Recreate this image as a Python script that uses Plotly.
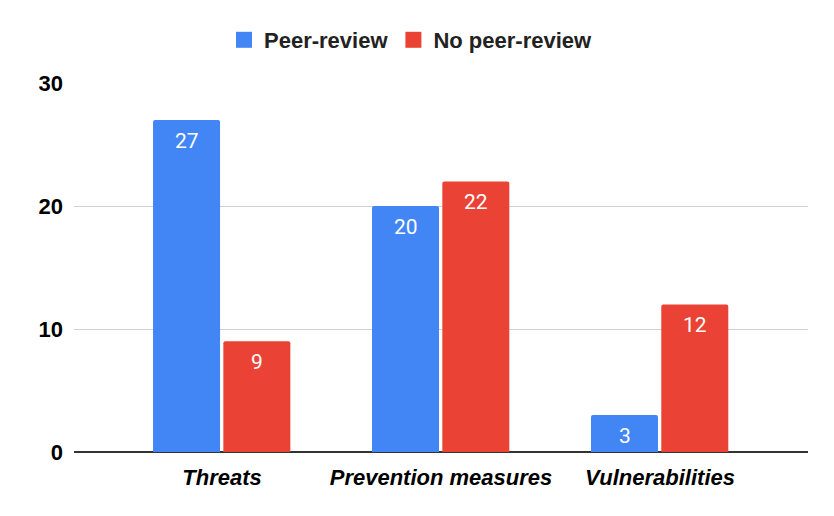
import plotly.graph_objects as go

categories = ["Threats", "Prevention measures", "Vulnerabilities"]
peer_review = [27, 20, 3]
no_peer_review = [9, 22, 12]
y_ticks = [0, 10, 20, 30]
series_names = ["Peer-review", "No peer-review"]
series_colors = ["#4285F4", "#EA4335"]

x_idx = list(range(len(categories)))
FONT = "Liberation Sans, Arial, sans-serif"
BAR_W = 0.306
OFFSETS = [-0.315, 0.006]

fig = go.Figure()
for name, vals, col, off in zip(series_names, [peer_review, no_peer_review], series_colors, OFFSETS):
    fig.add_trace(go.Bar(
        x=x_idx, y=vals, name=name, showlegend=False,
        width=BAR_W, offset=off,
        marker=dict(color=col, line=dict(width=0), cornerradius=2),
        hoverinfo="x+y",
    ))
    for xi, v in zip(x_idx, vals):
        fig.add_annotation(
            x=xi + off + BAR_W / 2, y=v, text=str(v), showarrow=False,
            xanchor="center", yanchor="middle", yshift=-21,
            font=dict(color="white", size=21, family="Roboto, Arial, sans-serif"),
        )
# legend entries with larger square swatches
for name, col in zip(series_names, series_colors):
    fig.add_trace(go.Scatter(
        x=[None], y=[None], mode="markers", name=name,
        marker=dict(symbol="square", size=16, color=col),
    ))

fig.update_layout(
    width=834, height=516,
    margin=dict(l=66, r=34, t=75, b=72, autoexpand=False),
    paper_bgcolor="white", plot_bgcolor="white",
    font=dict(family=FONT, color="#000000"),
    showlegend=True,
    legend=dict(
        orientation="h", x=0.4832, xanchor="center", xref="container",
        y=0.938, yanchor="middle", yref="container",
        font=dict(size=22, family=FONT, color="#222222", weight="bold"),
        traceorder="normal", itemwidth=30,
    ),
)

fig.update_xaxes(
    tickmode="array", tickvals=x_idx,
    ticktext=["<b><i>%s</i></b>" % c for c in categories],
    range=[-0.676, 2.676], automargin=False,
    showgrid=False, zeroline=False, showline=False,
    tickfont=dict(size=22, family=FONT, color="#000000"),
    ticks="", ticklen=0, ticklabelstandoff=10,
)
fig.update_yaxes(
    range=[0, 30], tickmode="array", tickvals=y_ticks, automargin=False,
    ticktext=["<b>%d</b>" % v for v in y_ticks],
    showgrid=True, gridcolor="#d0d0d0", gridwidth=1,
    zeroline=True, zerolinecolor="#333333", zerolinewidth=1.5,
    showline=False, ticks="", ticklabelstandoff=10,
    tickfont=dict(size=22, family=FONT, color="#000000"),
)

fig.write_html("out.html")
